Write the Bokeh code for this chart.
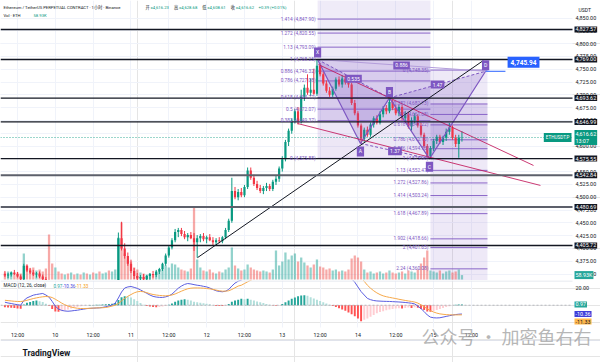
from bokeh.plotting import figure
from bokeh.models import Range1d, FixedTicker, Grid
from bokeh.layouts import column
from bokeh.embed import file_html
from bokeh.resources import INLINE
from bokeh.core.properties import value

# ------------------------------------------------------------------ data
# hourly candles, hour index counted from the 9th 00:00
hours = list(range(8, 154))
opens = [4350, 4347, 4349, 4353, 4350, 4345, 4340, 4366, 4357, 4353,
         4349, 4351, 4345, 4340, 4334, 4320, 4316, 4321, 4314, 4311,
         4316, 4313, 4318, 4315, 4320, 4317, 4321, 4319, 4323, 4320,
         4324, 4322, 4326, 4329, 4327, 4331, 4334, 4420, 4400, 4385,
         4370, 4356, 4346, 4341, 4344, 4340, 4346, 4350, 4348, 4355,
         4360, 4370, 4386, 4402, 4416, 4432, 4436, 4428, 4422, 4426,
         4420, 4412, 4420, 4424, 4418, 4422, 4416, 4412, 4416, 4414,
         4422, 4436, 4454, 4512, 4500, 4510, 4504, 4520, 4552, 4538,
         4526, 4518, 4512, 4518, 4522, 4516, 4530, 4536, 4556, 4574,
         4608, 4630, 4650, 4668, 4648, 4696, 4714, 4704, 4710, 4702,
         4757, 4740, 4722, 4708, 4700, 4712, 4730, 4720, 4732, 4724,
         4720, 4684, 4664, 4640, 4614, 4632, 4622, 4642, 4654, 4646,
         4662, 4674, 4668, 4686, 4674, 4664, 4676, 4654, 4662, 4638,
         4650, 4658, 4640, 4622, 4600, 4580, 4596, 4610, 4618, 4608,
         4616, 4628, 4636, 4616, 4604, 4616.23]
highs = [4356, 4352, 4355, 4358, 4354, 4349, 4370, 4369, 4362, 4358,
         4354, 4355, 4349, 4344, 4339, 4328, 4324, 4326, 4320, 4319,
         4322, 4320, 4324, 4322, 4326, 4323, 4327, 4325, 4329, 4327,
         4330, 4329, 4333, 4335, 4334, 4337, 4431, 4452, 4410, 4392,
         4378, 4362, 4352, 4348, 4350, 4348, 4352, 4356, 4358, 4362,
         4372, 4390, 4405, 4420, 4438, 4440, 4440, 4434, 4430, 4432,
         4430, 4426, 4428, 4430, 4425, 4428, 4422, 4420, 4422, 4424,
         4440, 4458, 4538, 4520, 4516, 4518, 4524, 4558, 4558, 4544,
         4532, 4524, 4522, 4528, 4526, 4534, 4542, 4560, 4580, 4612,
         4634, 4654, 4672, 4676, 4710, 4720, 4740, 4732, 4751, 4769,
         4762, 4745, 4728, 4715, 4716, 4734, 4736, 4738, 4740, 4732,
         4724, 4690, 4668, 4644, 4636, 4638, 4646, 4658, 4660, 4668,
         4678, 4680, 4694, 4690, 4680, 4680, 4680, 4668, 4666, 4656,
         4664, 4662, 4646, 4626, 4604, 4600, 4614, 4622, 4622, 4620,
         4634, 4645, 4640, 4622, 4622, 4628.68]
lows = [4344, 4342, 4345, 4348, 4343, 4336, 4338, 4354, 4350, 4346,
        4343, 4342, 4337, 4330, 4316, 4310, 4308, 4312, 4305, 4306,
        4310, 4308, 4312, 4311, 4314, 4312, 4316, 4313, 4318, 4315,
        4319, 4317, 4321, 4324, 4322, 4326, 4330, 4396, 4380, 4366,
        4352, 4340, 4335, 4333, 4336, 4334, 4339, 4343, 4344, 4350,
        4356, 4366, 4382, 4398, 4412, 4422, 4424, 4418, 4414, 4418,
        4395, 4382, 4412, 4414, 4410, 4414, 4406, 4406, 4410, 4410,
        4418, 4432, 4450, 4496, 4494, 4500, 4500, 4516, 4534, 4522,
        4514, 4508, 4506, 4512, 4512, 4512, 4524, 4530, 4550, 4570,
        4600, 4624, 4644, 4642, 4644, 4688, 4700, 4698, 4700, 4698,
        4736, 4718, 4704, 4696, 4696, 4708, 4716, 4714, 4720, 4714,
        4680, 4660, 4636, 4605, 4608, 4618, 4618, 4636, 4642, 4642,
        4656, 4662, 4664, 4670, 4660, 4658, 4650, 4648, 4634, 4630,
        4644, 4636, 4618, 4596, 4575, 4576, 4590, 4604, 4604, 4602,
        4610, 4622, 4612, 4598, 4577, 4608.61]
closes = [4347, 4349, 4353, 4350, 4345, 4340, 4366, 4357, 4353, 4349,
          4351, 4345, 4340, 4334, 4320, 4316, 4321, 4314, 4311, 4316,
          4313, 4318, 4315, 4320, 4317, 4321, 4319, 4323, 4320, 4324,
          4322, 4326, 4329, 4327, 4331, 4334, 4420, 4400, 4385, 4370,
          4356, 4346, 4341, 4344, 4340, 4346, 4350, 4348, 4355, 4360,
          4370, 4386, 4402, 4416, 4432, 4436, 4428, 4422, 4426, 4420,
          4412, 4420, 4424, 4418, 4422, 4416, 4412, 4416, 4414, 4422,
          4436, 4454, 4512, 4500, 4510, 4504, 4520, 4552, 4538, 4526,
          4518, 4512, 4518, 4522, 4516, 4530, 4536, 4556, 4574, 4608,
          4630, 4650, 4668, 4648, 4696, 4714, 4704, 4710, 4702, 4757,
          4740, 4722, 4708, 4700, 4712, 4730, 4720, 4732, 4724, 4720,
          4684, 4664, 4640, 4614, 4632, 4622, 4642, 4654, 4646, 4662,
          4674, 4668, 4686, 4674, 4664, 4676, 4654, 4662, 4638, 4650,
          4658, 4640, 4622, 4600, 4580, 4596, 4610, 4618, 4608, 4616,
          4628, 4636, 4616, 4604, 4616.23, 4616.62]
volumes_k = [93, 107, 93, 80, 93, 80, 347, 187, 147, 160,
             120, 133, 107, 147, 600, 213, 160, 107, 80, 67,
             80, 93, 67, 80, 67, 93, 80, 67, 93, 80,
             107, 80, 93, 120, 107, 133, 560, 760, 347, 267,
             240, 160, 133, 93, 80, 67, 80, 67, 93, 120,
             147, 187, 160, 213, 200, 160, 133, 120, 107, 147,
             960, 267, 160, 120, 107, 133, 93, 80, 107, 93,
             133, 160, 427, 187, 147, 120, 133, 200, 160, 133,
             120, 107, 120, 107, 93, 133, 387, 187, 240, 360,
             267, 320, 347, 240, 293, 227, 187, 160, 200, 267,
             173, 160, 133, 147, 120, 133, 107, 120, 107, 133,
             280, 320, 293, 240, 133, 93, 107, 80, 93, 107,
             80, 93, 120, 93, 80, 93, 107, 80, 120, 107,
             93, 133, 213, 293, 387, 120, 107, 93, 120, 80,
             107, 120, 93, 107, 133, 58.93]
macd_line = [3.5, 2.6, 2.0, 1.2, 0.6, 0.0, 5.5, 8.6, 10.2, 11.8,
             12.6, 13.2, 13.8, 12.0, 9.5, 4.5, -1.2, -4.5, -6.1, -6.8,
             -7.1, -6.8, -6.3, -5.9, -5.2, -4.6, -4.0, -3.7, -3.5, -3.3,
             -3.1, -2.6, -1.8, -0.9, 0.2, 2.5, 8.5, 15.5, 20.2, 21.5,
             22.0, 21.0, 19.8, 18.0, 16.0, 14.0, 12.0, 10.4, 9.6, 9.2,
             9.1, 9.8, 11.0, 13.0, 16.5, 20.0, 22.5, 24.5, 25.5, 25.0,
             24.2, 23.5, 23.0, 22.2, 21.5, 20.2, 18.5, 17.0, 16.2, 15.8,
             16.5, 18.5, 22.5, 26.0, 28.2, 29.6, 31.5, 35.0, 37.0, 37.5,
             37.0, 36.0, 35.5, 35.0, 34.5, 35.0, 36.0, 38.0, 41.0, 45.0,
             49.0, 53.0, 57.0, 58.0, 61.0, 63.0, 63.0, 62.0, 61.0, 62.0,
             61.0, 58.0, 54.0, 50.0, 47.0, 45.0, 42.0, 40.0, 38.0, 35.0,
             31.0, 27.0, 21.5, 16.0, 12.0, 8.0, 6.5, 5.5, 5.0, 4.8,
             4.6, 4.5, 4.4, 4.2, 4.0, 3.8, 3.5, 3.2, 2.8, 2.3,
             1.5, -1.0, -4.0, -7.5, -11.5, -14.0, -14.8, -15.0, -14.8, -14.0,
             -13.2, -12.4, -11.6, -11.0, -10.6, -10.36]
signal_line = [5.8, 5.4, 5.0, 4.6, 4.4, 4.3, 4.8, 5.8, 6.8, 7.8,
               8.6, 9.3, 9.9, 10.2, 10.0, 9.0, 7.0, 4.8, 2.5, 0.5,
               -1.0, -2.2, -3.0, -3.6, -3.9, -3.9, -3.8, -3.6, -3.4, -3.2,
               -3.1, -3.0, -2.7, -2.0, -1.0, 0.0, 2.0, 5.0, 8.0, 10.5,
               12.5, 14.5, 15.8, 16.2, 15.8, 14.8, 13.5, 12.6, 12.0, 11.5,
               11.2, 11.0, 11.4, 12.0, 13.2, 14.8, 16.5, 18.0, 19.3, 20.0,
               20.3, 20.3, 20.2, 20.0, 19.6, 19.2, 18.6, 17.8, 17.0, 16.5,
               16.5, 17.0, 18.5, 20.5, 22.5, 23.5, 25.5, 27.5, 29.4, 31.0,
               32.0, 33.0, 33.5, 34.0, 34.0, 34.2, 34.5, 35.0, 36.0, 37.5,
               39.5, 42.0, 44.5, 47.0, 49.5, 52.0, 54.0, 55.5, 56.5, 57.5,
               58.0, 58.0, 57.0, 55.5, 54.0, 52.5, 51.0, 49.5, 48.0, 46.0,
               43.0, 40.0, 36.5, 33.0, 28.0, 23.5, 20.0, 17.0, 14.5, 12.5,
               11.0, 10.0, 9.2, 8.5, 7.8, 7.0, 6.3, 5.6, 5.0, 4.4,
               3.7, 2.5, 0.5, -1.8, -4.2, -6.4, -8.0, -9.3, -10.2, -10.7,
               -11.1, -11.3, -11.4, -11.4, -11.4, -11.33]
macd_hist = [-2.3, -2.8, -3.0, -3.4, -3.8, -4.3, 0.7, 2.8, 3.8, 4.8,
             5.5, 4.6, 3.9, 1.8, -0.5, -4.5, -7.5, -7.8, -7.2, -6.3,
             -5.0, -4.0, -3.0, -2.0, -1.2, -0.5, -0.2, 0.2, 0.3, 0.5,
             0.6, 0.8, 1.0, 1.3, 1.6, 2.5, 6.0, 9.5, 10.5, 10.2,
             9.0, 7.0, 5.0, 2.5, 0.5, -0.8, -1.5, -2.2, -2.5, -2.2,
             -1.5, -0.8, 0.5, 2.0, 4.0, 5.5, 6.5, 7.0, 6.5, 5.5,
             4.2, 3.4, 2.8, 2.2, 1.8, 1.0, 0.0, -0.8, -1.0, -1.0,
             -0.5, 1.5, 4.0, 5.5, 6.5, 7.5, 7.0, 7.5, 6.5, 5.5,
             4.5, 3.5, 2.5, 1.5, 0.5, -0.3, -0.6, -0.4, 1.5, 3.5,
             5.5, 7.5, 9.0, 10.5, 11.5, 11.8, 11.0, 9.5, 8.0, 6.5,
             5.0, 3.5, 2.0, 0.5, -1.0, -2.0, -3.5, -5.0, -6.5, -8.5,
             -10.5, -13.0, -15.5, -18.8, -17.0, -15.5, -13.5, -11.5, -9.5, -8.0,
             -7.0, -6.0, -5.0, -4.5, -4.0, -3.6, -4.0, -3.2, -2.6, -3.4,
             -2.5, -3.0, -4.5, -5.7, -7.3, -7.6, -6.8, -5.7, -4.6, -3.3,
             -2.1, -1.1, -0.2, 0.4, 0.8, 0.97]
assert all(len(a) == 146 for a in (opens, highs, lows, closes, volumes_k,
                                    macd_line, signal_line, macd_hist))

time_ticks = [12, 24, 36, 48, 60, 72, 84, 96, 108, 120, 132, 144, 156]
time_labels = ["12:00", "10", "12:00", "11", "12:00", "12", "12:00", "13",
               "12:00", "14", "12:00", "15", "12:00"]
price_ticks = [4350, 4375, 4400, 4425, 4450, 4475, 4500, 4525, 4550, 4575,
               4600, 4625, 4650, 4675, 4700, 4725, 4750, 4775, 4800, 4825, 4850]
macd_ticks = [20]

level_lines = [4827.57, 4769.00, 4693.62, 4646.99, 4575.55, 4542.84, 4480.69, 4405.72]
level_heavy = [False, False, False, False, False, True, True, False]

# fib levels; the last level of each only extends the shading beyond the view
fib_left_levels = [0, 0.382, 0.5, 0.618, 0.786, 0.886, 1, 1.13, 1.272, 1.414, 1.618]
fib_left_prices = [4575.88, 4649.37, 4672.07, 4694.77, 4727.08, 4746.32, 4768.25,
                   4793.09, 4820.55, 4847.90, 4887.13]
fib_left_span = [107.2, 143.0]
fib_right_levels = [0, 0.382, 0.5, 0.618, 0.786, 0.886, 1, 1.13, 1.272, 1.414,
                    1.618, 1.902, 2, 2.24, 2.618]
fib_right_prices = [4748.35, 4682.13, 4661.68, 4641.22, 4612.10, 4594.76, 4575.00,
                    4552.47, 4527.86, 4503.24, 4467.89, 4418.66, 4401.65, 4360.08, 4294.55]
fib_right_span = [143.0, 161.1]

pattern_names = ["X", "A", "B", "C", "D"]
pattern_h = [107.2, 120.8, 130.0, 142.7, 160.5]
pattern_price = [4769.00, 4605.00, 4694.00, 4575.00, 4745.94]
ratio_pairs = [(0, 2), (1, 3), (2, 4), (0, 4)]
ratio_text = ["0.535", "1.37", "1.47", "0.886"]

trend_black_h = [69.1, 159.8]
trend_black_p = [4382.0, 4767.0]
trend_pink1_h = [107.5, 175.7]
trend_pink1_p = [4759.0, 4562.0]
trend_pink2_h = [100.8, 177.9]
trend_pink2_p = [4644.0, 4523.0]

last_price = 4616.62
last_change = "+0.39 (+0.01%)"
last_volume = 58.93
macd_last = [0.97, -10.36, -11.33]   # histogram, MACD, signal

# ------------------------------------------------------------------ layout helpers
W = 600
MAIN_H, MACD_H = 280, 82
PX_H = 3.152      # px per hour
PX_P = 0.512      # px per USDT
VOL_PER_PX = 1 / 0.075


def hx(xr):
    return 6.6 + xr / PX_H


def py(yr):
    return 4884.2 - yr / PX_P


def my(yr):
    return (304.7 - yr) / 0.85


FONT = "Roboto"
CJK = "Noto Sans CJK SC"
DARK = "#131722"
UP, DN = "#089981", "#f23645"
VUP, VDN = "#26a69a", "#ef5350"
PURPLE = "#7e57c2"
GRID = "#f0f3fa"
EDGE = hx(572)          # right edge of the chart area / start of the price scale

x_range = Range1d(hx(0), hx(W))
main_y = Range1d(py(280), py(0))


def texts(fig, x, y, t, color=DARK, size="5.5px", font=FONT, style="normal",
          align="left", bg=None, pad=1, **kw):
    n = len(t)
    args = dict(x=x if isinstance(x, list) else [x] * n,
                y=y if isinstance(y, list) else [y] * n, text=t,
                text_color=color, text_font_size=size, text_font=value(font),
                text_font_style=style, text_align=align, text_baseline="middle")
    if bg is not None:
        args.update(background_fill_color=bg, padding=pad)
    args.update(kw)
    return fig.text(**args)


# ------------------------------------------------------------------ main pane
p = figure(width=W, height=MAIN_H, x_range=x_range, y_range=main_y,
           x_axis_location=None, y_axis_location=None, output_backend="svg",
           toolbar_location=None, min_border=0, outline_line_color=None)
p.extra_y_ranges = {"vol": Range1d(-1 * VOL_PER_PX, 279 * VOL_PER_PX)}
p.add_layout(Grid(dimension=0, ticker=FixedTicker(ticks=time_ticks), grid_line_color=GRID))
p.add_layout(Grid(dimension=1, ticker=FixedTicker(ticks=price_ticks), grid_line_color=GRID,
                  cross_bounds=(x_range.start, EDGE)))

# fib shading and levels
left_band_alpha = [0.14, 0.3, 0.3, 0.3, 0.3, 0.3, 0.12, 0.12, 0.12, 0.12]
right_band_alpha = [0.13, 0.28, 0.28, 0.28, 0.28, 0.28, 0.13, 0.13, 0.13, 0.13,
                    0.13, 0.13, 0.13, 0.13]
for span, prices, alphas in ((fib_left_span, fib_left_prices, left_band_alpha),
                             (fib_right_span, fib_right_prices, right_band_alpha)):
    n = len(prices) - 1
    p.quad(left=[span[0]] * n, right=[span[1]] * n,
           bottom=[min(prices[i], prices[i + 1]) for i in range(n)],
           top=[max(prices[i], prices[i + 1]) for i in range(n)],
           fill_color=PURPLE, fill_alpha=alphas, line_color=None)
    p.segment(x0=[span[0]] * len(prices), x1=[span[1]] * len(prices),
              y0=prices, y1=prices, line_color=PURPLE, line_width=1, line_alpha=0.9)

# volume
inc = [c >= o for o, c in zip(opens, closes)]
p.vbar(x=hours, top=volumes_k, bottom=0, width=0.72, y_range_name="vol",
       fill_color=[VUP if u else VDN for u in inc], fill_alpha=0.5, line_color=None)

# candles
ccol = [UP if u else DN for u in inc]
p.segment(x0=hours, y0=lows, x1=hours, y1=highs, line_color=ccol, line_width=1)
p.vbar(x=hours, bottom=[min(o, c) for o, c in zip(opens, closes)],
       top=[max(o, c) for o, c in zip(opens, closes)], width=0.7,
       fill_color=ccol, line_color=None)

# harmonic pattern
X, A, B, C, D = range(5)
ph, pp = pattern_h, pattern_price
p.patches(xs=[[ph[X], ph[A], ph[B]], [ph[B], ph[C], ph[D]]],
          ys=[[pp[X], pp[A], pp[B]], [pp[B], pp[C], pp[D]]],
          fill_color=PURPLE, fill_alpha=0.2, line_color=None)
p.line(ph, pp, line_color=PURPLE, line_width=1.2)
p.multi_line(xs=[[ph[a], ph[b]] for a, b in ratio_pairs[:3]],
             ys=[[pp[a], pp[b]] for a, b in ratio_pairs[:3]],
             line_color=PURPLE, line_width=1, line_dash="3 2")
p.line([ph[X], ph[D]], [pp[X], pp[D]], line_color="#b39ddb", line_width=1)

# trend lines
p.line(trend_black_h, trend_black_p, line_color=DARK, line_width=1)
p.line(trend_pink1_h, trend_pink1_p, line_color="#c2185b", line_width=1, line_alpha=0.85)
p.line(trend_pink2_h, trend_pink2_p, line_color="#c2185b", line_width=1, line_alpha=0.85)

# horizontal levels (stop at the price scale)
nl = len(level_lines)
p.segment(x0=[x_range.start] * nl, x1=[EDGE] * nl, y0=level_lines, y1=level_lines,
          line_color=["#5d606b" if h else DARK for h in level_heavy],
          line_width=[2 if h else 1.3 for h in level_heavy])
p.segment(x0=[x_range.start], x1=[EDGE], y0=[last_price], y1=[last_price],
          line_color=UP, line_width=1, line_dash="1 2", line_alpha=0.8)

# fib labels (only the levels inside the view)
for span, levels, prices in ((fib_left_span, fib_left_levels, fib_left_prices),
                             (fib_right_span, fib_right_levels, fib_right_prices)):
    shown = [(l, v) for l, v in zip(levels, prices) if main_y.start + 6 < v < main_y.end - 6]
    texts(p, span[0], [v for _, v in shown],
          [f"{l:g} ({v:,.2f})" for l, v in shown],
          color=PURPLE, size="4.8px", align="right", x_offset=-2)

# ratio and point badges
texts(p, [(ph[a] + ph[b]) / 2 for a, b in ratio_pairs],
      [(pp[a] + pp[b]) / 2 for a, b in ratio_pairs], ratio_text,
      color="white", size="5px", align="center", bg=PURPLE, pad=2)
texts(p, ph, pp, pattern_names, color="white", size="5px", align="center",
      bg=PURPLE, pad=2, y_offset=[-7, 8, -6, 8, -6])

# target callout
p.segment(x0=[ph[D]], y0=[pp[D]], x1=[ph[D] + 6.3], y1=[pp[D]],
          line_color="#2962ff", line_width=1)
texts(p, ph[D], pp[D], [f"{pp[D]:,.2f}"], color="white", size="6.5px",
      style="bold", bg="#2962ff", pad=3, x_offset=22, y_offset=-9)

# symbol tag at the right edge of the chart
texts(p, EDGE, last_price, ["ETHUSDT.P"], color="white", size="4.6px",
      align="right", bg=UP, pad=2, x_offset=-1)

# price scale: ticks, then badges drawn over them
texts(p, EDGE, price_ticks, [f"{t:,.2f}" for t in price_ticks], size="5.4px", x_offset=3)
texts(p, EDGE, level_lines, [f"{v:,.2f}" for v in level_lines], color="white",
      size="5.4px", bg=DARK, pad=1, x_offset=2)
texts(p, EDGE, last_price, [f"{last_price:,.2f}\n13:07"], color="white",
      size="5.4px", bg=UP, pad=1, x_offset=2)
texts(p, EDGE, last_volume, [f"{last_volume:.2f}K"], color="white", size="5.4px",
      bg=VUP, pad=1, x_offset=2, y_range_name="vol")
texts(p, EDGE, py(9), ["USDT"], size="5px", x_offset=6)

# header legend
hy1, hy2 = py(6.5), py(14.5)
texts(p, hx(3), hy1, ["Ethereum / TetherUS PERPETUAL CONTRACT · 1小时 · Binance"],
      size="4.2px", font=f"{FONT}, {CJK}")
ohlc_keys = ["开", "高", "低", "收"]
ohlc_vals = [opens[-1], highs[-1], lows[-1], closes[-1]]
texts(p, [hx(145 + i * 28.4) for i in range(4)], hy1, ohlc_keys, size="4.2px", font=CJK)
texts(p, [hx(150 + i * 28.4) for i in range(4)], hy1,
      [f"={v:,.2f}" for v in ohlc_vals], color=UP, size="4.2px")
texts(p, hx(258), hy1, [last_change], color=UP, size="4.2px")
texts(p, hx(3), hy2, ["Vol · ETH"], size="4.2px")
texts(p, hx(33), hy2, [f"{last_volume:.2f}K"], color=UP, size="4.2px")

# ------------------------------------------------------------------ MACD pane + time scale
q = figure(width=W, height=MACD_H, x_range=x_range, y_range=Range1d(my(362), my(280)),
           x_axis_location=None, y_axis_location=None, output_backend="svg",
           toolbar_location=None, min_border=0, outline_line_color=None)
q.add_layout(Grid(dimension=0, ticker=FixedTicker(ticks=time_ticks), grid_line_color=GRID,
                  cross_bounds=(my(327), my(280))))

hcol = []
for i, v in enumerate(macd_hist):
    prev = macd_hist[i - 1] if i else v
    if v >= 0:
        hcol.append("#26a69a" if v >= prev else "#b2dfdb")
    else:
        hcol.append("#ff5252" if v <= prev else "#ffcdd2")
q.vbar(x=hours, top=macd_hist, bottom=0, width=0.62, fill_color=hcol, line_color=None)
q.segment(x0=[x_range.start], x1=[EDGE], y0=[0], y1=[0], line_color="#9598a1",
          line_width=1, line_dash="2 2", line_alpha=0.6)
q.line(hours, macd_line, line_color="#5b5ee0", line_width=1)
q.line(hours, signal_line, line_color="#f6a94b", line_width=1)

# pane separators
q.segment(x0=[x_range.start, x_range.start], x1=[EDGE, x_range.end],
          y0=[my(280.5), my(340)], y1=[my(280.5), my(340)],
          line_color="#e0e3eb", line_width=1)

ly = my(285)
texts(q, hx(3), ly, ["MACD (12, 26, close)"], size="4.6px")
texts(q, [hx(53), hx(62), hx(75)], ly, [f"{v:.2f}" for v in macd_last],
      color=["#26a69a", "#3f3fd9", "#f39c12"], size="4.6px")

# MACD scale
texts(q, EDGE, macd_ticks, [f"{t:.2f}" for t in macd_ticks], size="5.4px", x_offset=3)
texts(q, EDGE, macd_last[0], [f"{macd_last[0]:.2f}"], color="white", size="5.4px",
      bg="#26a69a", x_offset=2)
texts(q, EDGE, macd_last[1], [f"{macd_last[1]:.2f}"], color="white", size="5.4px",
      bg="#3f3fd9", x_offset=2)
texts(q, EDGE, my(321), [f"{macd_last[2]:.2f}"], color=DARK, size="5.4px",
      bg="#ffb74d", x_offset=2)

# time scale
texts(q, time_ticks, my(334), time_labels, size="5.3px", align="center")

# footer
texts(q, hx(22), my(352), ["TradingView"], size="8.5px", style="bold")
texts(q, hx(421), my(335), ["公众号 · 加密鱼右右"], size="18px", font=CJK,
      color="#9e9e9e", text_alpha=0.75)

layout = column(p, q, spacing=0)
open("out.html", "w").write(file_html(layout, INLINE))
